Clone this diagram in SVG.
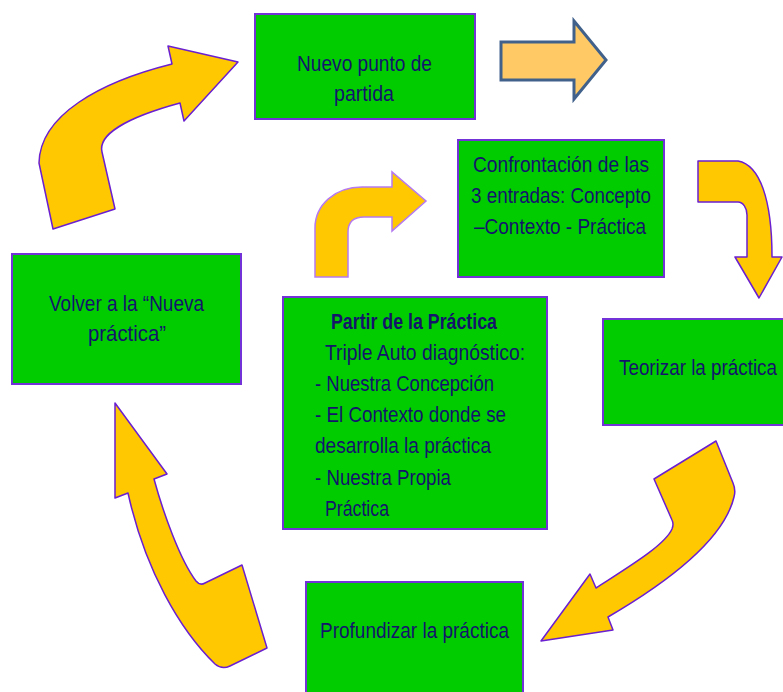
<svg xmlns="http://www.w3.org/2000/svg" width="783" height="692" viewBox="0 0 783 692">
<style>
.box{fill:#00CC00;stroke:#7232d8;stroke-width:2}
.arr{fill:#FFC800;stroke:#6a1fd0;stroke-width:1.5;stroke-linejoin:round}
.arr2{fill:#FFC800;stroke:#b57af0;stroke-width:1.5}
.blk{fill:#FFCA66;stroke:#41618b;stroke-width:3}
text{font-family:"Liberation Sans",Arial,sans-serif;font-size:22px;fill:#14146b}
.b{font-weight:bold}
</style>
<rect width="783" height="692" fill="#ffffff"/>
<g id="connectors">
<path class="arr" d="M53,229 L115,209 L102,152 C98,135 125,118 180,103 L184,121 L238,62 L168,46 L172,64 C100,82 40,115 39,163 Z"/>
<path class="blk" d="M501,42 L574,42 L574,21 L606,60 L574,99 L574,80 L501,80 Z"/>
<path class="arr2" d="M315,277 L348,277 L348,232 C348,222 354,217 364,217 L392,217 L392,231 L426,201 L392,172 L392,187 L362,187 C335,187 315,205 315,228 Z"/>
<path class="arr" d="M698,161 L738,161 C760,165 772,200 772,257 L782,257 L759,298 L735,257 L747,257 L747,215 C747,208 743,202 738,202 L698,202 Z"/>
<path class="arr" d="M716,441 L733,483 Q736,490 734,497 C725,535 680,575 608,617 L613,630 L541,641 L590,574 L596,588 C630,566 665,545 672,529 Q674,524 672,520 L654,479 Z"/>
<path class="arr" d="M115,403 L167,474 L154,479 C163,512 180,560 196,581 Q200,586 205,583 L242,565 L267,648 L230,666 Q222,670 215,664 C180,630 145,570 128,493 L115,498 Z"/>
</g>
<g id="nuevo">
<rect class="box" x="255" y="14" width="220" height="105"/>
<text x="297" y="71" textLength="135" lengthAdjust="spacingAndGlyphs">Nuevo punto de</text>
<text x="334" y="101" textLength="60" lengthAdjust="spacingAndGlyphs">partida</text>
</g>
<g id="confrontacion">
<rect class="box" x="458" y="140" width="206" height="137"/>
<text x="473" y="172" textLength="176" lengthAdjust="spacingAndGlyphs">Confrontación de las</text>
<text x="471" y="203" textLength="180" lengthAdjust="spacingAndGlyphs">3 entradas:  Concepto</text>
<text x="474" y="234" textLength="172" lengthAdjust="spacingAndGlyphs">–Contexto - Práctica</text>
</g>
<g id="teorizar">
<rect class="box" x="603" y="319" width="182" height="106"/>
<text x="619" y="375" textLength="158" lengthAdjust="spacingAndGlyphs">Teorizar la práctica</text>
</g>
<g id="partir">
<rect class="box" x="283" y="297" width="264" height="232"/>
<text class="b" x="331" y="329" textLength="166" lengthAdjust="spacingAndGlyphs">Partir de la Práctica</text>
<text x="325" y="360" textLength="200" lengthAdjust="spacingAndGlyphs">Triple Auto diagnóstico:</text>
<text x="315" y="391" textLength="179" lengthAdjust="spacingAndGlyphs">- Nuestra Concepción</text>
<text x="315" y="422" textLength="191" lengthAdjust="spacingAndGlyphs">- El Contexto donde se</text>
<text x="315" y="453" textLength="176" lengthAdjust="spacingAndGlyphs">desarrolla la práctica</text>
<text x="315" y="485" textLength="136" lengthAdjust="spacingAndGlyphs">- Nuestra Propia</text>
<text x="325" y="516" textLength="64" lengthAdjust="spacingAndGlyphs">Práctica</text>
</g>
<g id="volver">
<rect class="box" x="12" y="254" width="229" height="130"/>
<text x="49" y="311" textLength="155" lengthAdjust="spacingAndGlyphs">Volver a la “Nueva</text>
<text x="88" y="341" textLength="78" lengthAdjust="spacingAndGlyphs">práctica”</text>
</g>
<g id="profundizar">
<rect class="box" x="306" y="582" width="217" height="120"/>
<text x="320" y="638" textLength="189" lengthAdjust="spacingAndGlyphs">Profundizar la práctica</text>
</g>
</svg>
